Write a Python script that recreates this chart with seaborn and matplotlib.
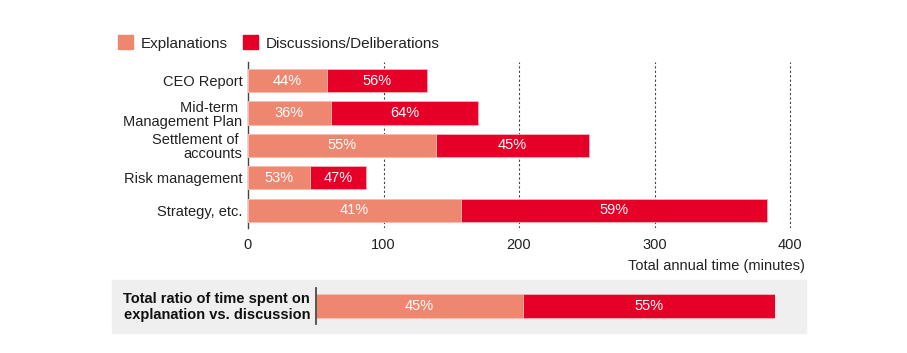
import matplotlib
matplotlib.use("Agg")
import matplotlib.pyplot as plt
import seaborn as sns
import numpy as np
import pandas as pd
from matplotlib.patches import Patch, Rectangle

# data
categories = ["CEO Report", "Mid-term \nManagement Plan", "Settlement of \naccounts",
              "Risk management", "Strategy, etc."]
total_minutes = [132, 170, 252, 87, 383]
expl_pct = [44, 36, 55, 53, 41]
disc_pct = [56, 64, 45, 47, 59]
overall_pct = [45, 55]
overall_label = "Total ratio of time spent on\nexplanation vs. discussion"
xticks = [0, 100, 200, 300, 400]

c_expl = "#ef866f"
c_disc = "#e60028"

sns.set_theme(style="white")
plt.rcParams["font.family"] = ["Liberation Sans", "DejaVu Sans"]

df = pd.DataFrame({"cat": categories, "total": total_minutes, "expl_pct": expl_pct})
df["expl"] = df["total"] * df["expl_pct"] / 100

fig = plt.figure(figsize=(9.07, 3.53), dpi=100)

# main chart
px_per_min = 542 / 400
ax = fig.add_axes([248/907, 1-228/353, 546/907, 166/353])
sns.barplot(data=df, x="total", y="cat", color=c_disc, width=0.72, saturation=1,
            edgecolor="#f7b0b8", linewidth=0.6, ax=ax, zorder=3)
sns.barplot(data=df, x="expl", y="cat", color=c_expl, width=0.72, saturation=1,
            edgecolor="#f9c4b6", linewidth=0.6, ax=ax, zorder=4)
for i, row in df.iterrows():
    ax.text(row["expl"]/2, i, f"{expl_pct[i]}%", color="white", ha="center", va="center",
            fontsize=10.5, zorder=5)
    ax.text((row["expl"]+row["total"])/2, i, f"{disc_pct[i]}%", color="white", ha="center",
            va="center", fontsize=10.5, zorder=5)
ax.set_xlim(0, 546 / px_per_min)
ax.set_ylim(4.55, -0.58)
ax.set_xticks(xticks)
ax.set_xticklabels([str(t) for t in xticks], fontsize=10.5, color="#222222")
ax.tick_params(axis="y", labelsize=10.5, labelcolor="#222222", length=0, pad=4)
ax.tick_params(axis="x", length=0, pad=7)
for t in ax.get_yticklabels():
    t.set_multialignment("right")
    t.set_linespacing(1.0)
for x in xticks[1:]:
    ax.axvline(x, color="#444444", linestyle=(0, (2, 2)), linewidth=0.8, zorder=1)
for s in ["top", "right", "bottom"]:
    ax.spines[s].set_visible(False)
ax.spines["left"].set_color("#444444")
ax.spines["left"].set_linewidth(1)
ax.set_xlabel("")
ax.set_ylabel("")
fig.text(805/907, 1-266/353, "Total annual time (minutes)", ha="right", va="center",
         fontsize=10.5, color="#222222")

# legend
handles = [Patch(color=c_expl, label="Explanations"),
           Patch(color=c_disc, label="Discussions/Deliberations")]
fig.legend(handles=handles, loc="center left", bbox_to_anchor=(104/907, 1-43/353),
           ncol=2, frameon=False, fontsize=11, handlelength=1.0, handleheight=1.0,
           handletextpad=0.5, columnspacing=1.0, labelcolor="#222222")

# bottom summary bar
fig.patches.append(Rectangle((112/907, 1-333/353), 694/907, 53/353,
                             transform=fig.transFigure, color="#efefef", zorder=0))
ax2 = fig.add_axes([316/907, 1-324/353, 459/907, 36/353])
ax2.set_zorder(2)
ax2.patch.set_alpha(0)
sns.barplot(x=[100], y=[0], orient="h", color=c_disc, width=1, saturation=1,
            edgecolor="#f7b0b8", linewidth=0.6, ax=ax2)
sns.barplot(x=[overall_pct[0]], y=[0], orient="h", color=c_expl, width=1, saturation=1,
            edgecolor="#f9c4b6", linewidth=0.6, ax=ax2)
ax2.text(overall_pct[0]/2, 0, f"{overall_pct[0]}%", color="white", ha="center",
         va="center", fontsize=10.5)
ax2.text(overall_pct[0] + overall_pct[1]/2, 0, f"{overall_pct[1]}%", color="white",
         ha="center", va="center", fontsize=10.5)
ax2.set_xlim(0, 100)
ax2.set_ylim(0.75, -0.75)
ax2.set_xticks([])
ax2.set_yticks([])
for s in ["top", "right", "bottom"]:
    ax2.spines[s].set_visible(False)
ax2.spines["left"].set_color("#444444")
fig.text(310/907, 1-307/353, overall_label, ha="right", va="center", fontsize=10.5,
         fontweight="bold", color="#111111", linespacing=1.25, multialignment="right")

fig.savefig("out.png", dpi=100)
